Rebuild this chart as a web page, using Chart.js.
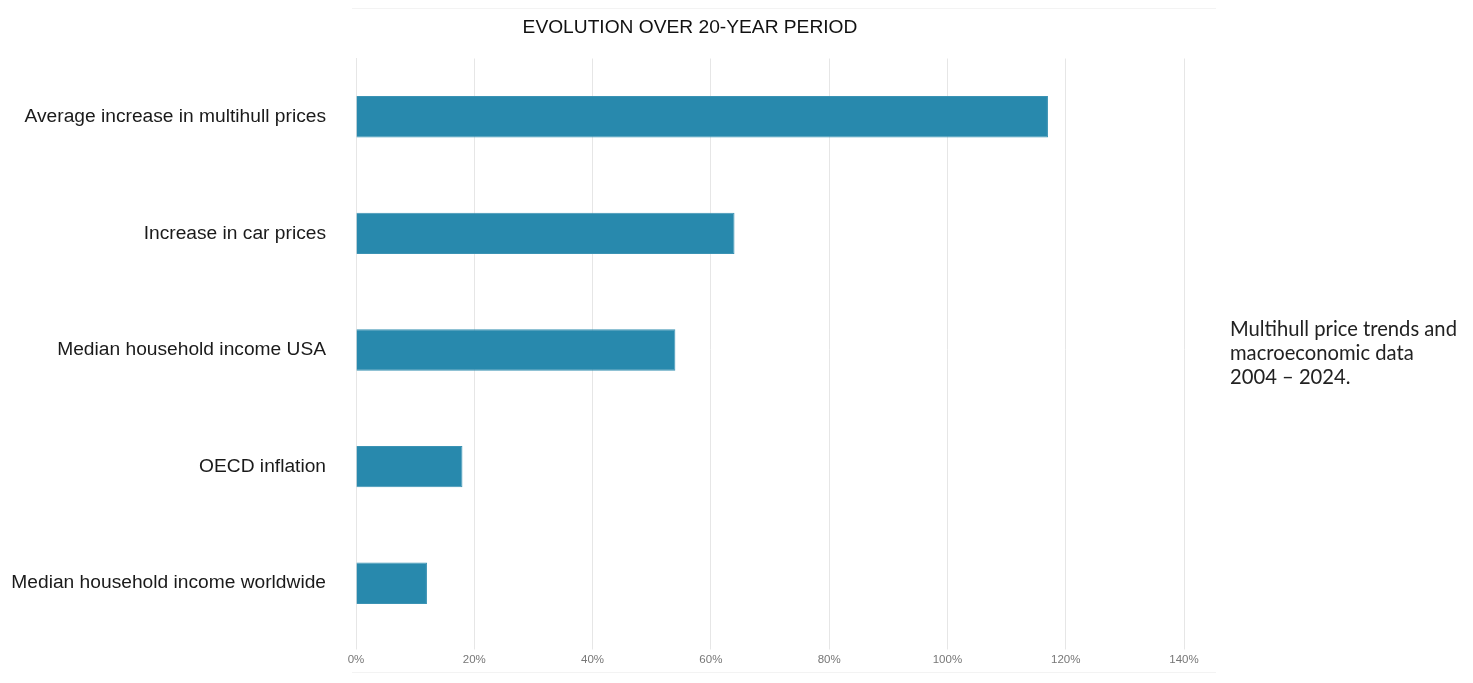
<!DOCTYPE html>
<html>
<head>
<meta charset="utf-8">
<script src="https://cdn.jsdelivr.net/npm/chart.js@4/dist/chart.umd.min.js"></script>
<style>
  html, body { margin: 0; padding: 0; background: #fff; }
  #wrap { position: relative; width: 1473px; height: 683px; overflow: hidden; }
  #c { position: absolute; left: 0; top: 0; }
  .title { position: absolute; left: 390px; width: 600px; top: 14px; text-align: center; font-family: "Liberation Sans", Arial, sans-serif; font-size: 19.2px; line-height: 26px; color: #111; }
  .note { position: absolute; left: 1230px; top: 316px; font-family: Lato, "Open Sans", sans-serif; font-size: 20.2px; line-height: 24px; color: #222; }
  .hl { position: absolute; left: 352px; width: 864px; height: 1px; background: #f3f3f3; }
</style>
</head>
<body>
<div id="wrap">
  <div class="hl" style="top:8px"></div>
  <div class="hl" style="top:672px"></div>
  <canvas id="c" width="1473" height="683"></canvas>
  <div class="title" id="title"></div>
  <div class="note">Multihull price trends and<br>macroeconomic data<br>2004 – 2024.</div>
</div>
<script>
const categories = [
  "Average increase in multihull prices",
  "Increase in car prices",
  "Median household income USA",
  "OECD inflation",
  "Median household income worldwide"
];
const values = [117, 64, 54, 18, 12];
const tickValues = [0, 20, 40, 60, 80, 100, 120, 140];
const titleText = "EVOLUTION OVER 20-YEAR PERIOD";

document.getElementById('title').textContent = titleText;

const fam = '"Liberation Sans", Arial, sans-serif';

new Chart(document.getElementById('c'), {
  type: 'bar',
  data: {
    labels: categories,
    datasets: [{
      data: values,
      backgroundColor: '#2889ad',
      borderColor: '#3b93b4',
      borderWidth: 1,
      barPercentage: 0.355,
      categoryPercentage: 1.0
    }]
  },
  options: {
    indexAxis: 'y',
    responsive: false,
    animation: false,
    layout: { padding: { left: 0, right: 289, top: 58.5, bottom: 10 } },
    plugins: {
      legend: { display: false },
      tooltip: { enabled: false },
      title: { display: false }
    },
    scales: {
      x: {
        min: 0,
        max: 140,
        afterBuildTicks: (s) => { s.ticks = tickValues.map(v => ({ value: v })); },
        afterFit: (s) => { s.height = 30; },
        grid: { color: '#e6e6e6', lineWidth: 1, tickLength: 8, drawTicks: true },
        border: { display: false },
        ticks: {
          color: '#777',
          padding: 3,
          font: { family: fam, size: 11.5 },
          callback: (v) => v + '%'
        }
      },
      y: {
        afterFit: (s) => { s.width = 356; },
        grid: { display: false, drawTicks: false },
        border: { display: true, color: '#e6e6e6' },
        ticks: {
          color: '#1a1a1a',
          padding: 30,
          font: { family: fam, size: 19.2 }
        }
      }
    }
  }
});
</script>
</body>
</html>
